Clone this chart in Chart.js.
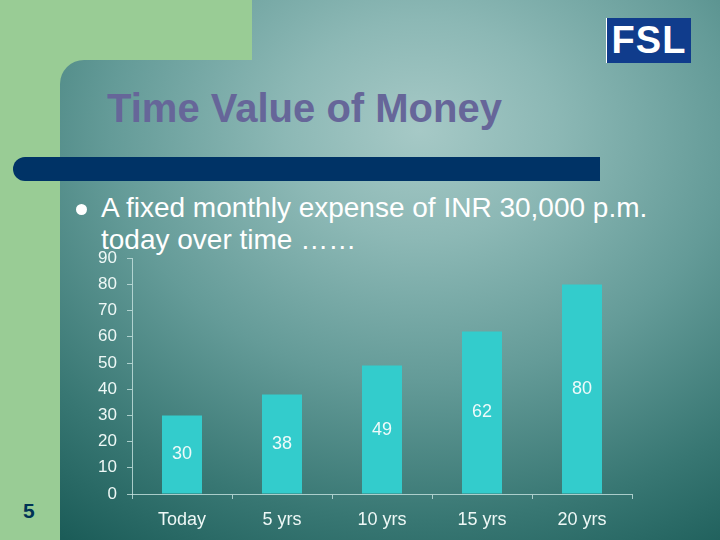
<!DOCTYPE html>
<html>
<head>
<meta charset="utf-8">
<script src="https://cdn.jsdelivr.net/npm/chart.js@4.4.0/dist/chart.umd.min.js"></script>
<style>
  html, body { margin: 0; padding: 0; }
  body {
    width: 720px; height: 540px; position: relative; overflow: hidden;
    background: #99cc95;
    font-family: "Liberation Sans", Arial, sans-serif;
  }
  .teal {
    position: absolute;
    background: radial-gradient(ellipse 620px 500px at 420px 130px, #a6c9c6 0%, #8cb8b5 22%, #649b98 50%, #387773 78%, #1b5c58 100%);
    background-attachment: fixed;
  }
  #topright { left: 252px; top: 0; width: 468px; height: 60px; }
  #panel { left: 60px; top: 60px; width: 660px; height: 480px; border-top-left-radius: 24px; }
  #bar {
    position: absolute; left: 13px; top: 157px; width: 587px; height: 24px;
    background: #003366; border-radius: 12px 0 0 12px;
  }
  #title {
    position: absolute; left: 107px; top: 85px;
    font-weight: bold; font-size: 40px; line-height: 46px; color: #666699;
  }
  #bullet {
    position: absolute; left: 101px; top: 192px; width: 620px;
    font-size: 28px; line-height: 32px; color: #ffffff; white-space: nowrap;
  }
  #dot {
    position: absolute; left: 76px; top: 204px; width: 11px; height: 11px;
    border-radius: 50%; background: #ffffff;
  }
  #logo {
    position: absolute; left: 606px; top: 18px; width: 84px; height: 45px;
    background: #103c8c; border-left: 1px solid #ffffff;
    color: #ffffff; font-weight: bold; font-size: 38px; line-height: 45px;
    text-align: center; letter-spacing: 1px;
  }
  #num {
    position: absolute; left: 23px; top: 499px;
    font-weight: bold; font-size: 21px; color: #003355;
  }
  #wrap { position: absolute; left: 80px; top: 238px; width: 570px; height: 302px; }
</style>
</head>
<body>
<div id="topright" class="teal"></div>
<div id="panel" class="teal"></div>
<div id="bar"></div>
<div id="title">Time Value of Money</div>
<div id="dot"></div>
<div id="bullet">A fixed monthly expense of INR 30,000 p.m.<br>today over time ……</div>
<div id="logo">FSL</div>
<div id="num">5</div>
<div id="wrap"><canvas id="chart"></canvas></div>
<script>
const categories = ["Today", "5 yrs", "10 yrs", "15 yrs", "20 yrs"];
const expense = [30, 38, 49, 62, 80];
const yTicks = [0, 10, 20, 30, 40, 50, 60, 70, 80, 90];

// etiquetas dentro de cada barra
const barLabels = {
  id: "barLabels",
  afterDatasetsDraw(chart) {
    const ctx = chart.ctx;
    const meta = chart.getDatasetMeta(0);
    ctx.save();
    ctx.font = "18px 'Liberation Sans', Arial, sans-serif";
    ctx.fillStyle = "#eefafa";
    ctx.textAlign = "center";
    ctx.textBaseline = "middle";
    meta.data.forEach((bar, i) => {
      ctx.fillText(String(expense[i]), bar.x, (bar.y + bar.base) / 2);
    });
    ctx.restore();
  }
};

const axisColor = "rgba(200,228,225,0.8)";
const tickFont = { family: "'Liberation Sans', Arial, sans-serif", size: 17 };

new Chart(document.getElementById("chart"), {
  type: "bar",
  data: {
    labels: categories,
    datasets: [{
      data: expense,
      backgroundColor: "#33cccc",
      barPercentage: 0.4,
      categoryPercentage: 1
    }]
  },
  options: {
    responsive: true,
    maintainAspectRatio: false,
    animation: false,
    layout: { padding: { top: 0, right: 18, bottom: 0, left: 0 } },
    plugins: { legend: { display: false }, tooltip: { enabled: false } },
    scales: {
      x: {
        grid: { display: true, drawOnChartArea: false, color: axisColor, tickLength: 5, offset: true },
        border: { display: true, color: axisColor },
        ticks: { color: "#eef8f6", font: { family: tickFont.family, size: 18 }, padding: 10 },
        afterFit(scale) { scale.height = 46; }
      },
      y: {
        min: 0,
        max: 90,
        afterBuildTicks(scale) { scale.ticks = yTicks.map(v => ({ value: v })); },
        grid: { display: true, drawOnChartArea: false, color: axisColor, tickLength: 5 },
        border: { display: true, color: axisColor },
        ticks: { color: "#eef8f6", font: tickFont, padding: 10 },
        afterFit(scale) { scale.width = 52; }
      }
    }
  },
  plugins: [barLabels]
});
</script>
</body>
</html>
